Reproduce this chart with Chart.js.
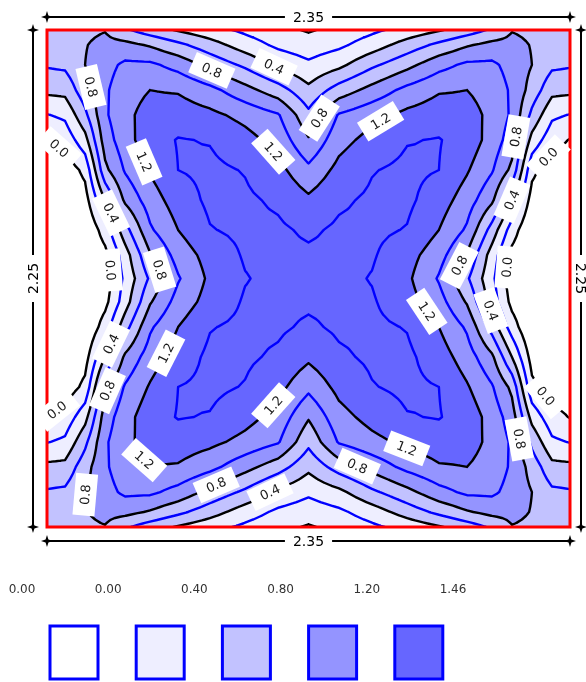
<!DOCTYPE html>
<html lang="en">
<head>
<meta charset="UTF-8">
<title>Contour plot</title>
<script src="https://cdn.jsdelivr.net/npm/chart.js@4.4.0/dist/chart.umd.min.js"></script>
<style>
  html, body { margin: 0; padding: 0; background: #fff; }
  #wrap { width: 586px; height: 682px; position: relative; }
</style>
</head>
<body>
<div id="wrap"><canvas id="chart"></canvas></div>
<script>
// grid columns / rows (data units) and the values
const xs = [0, 0.081, 0.171, 0.261, 0.351, 0.463, 0.589, 0.732, 0.890, 1.038, 1.175,
            1.312, 1.460, 1.618, 1.761, 1.887, 1.999, 2.089, 2.179, 2.269, 2.35];
const ys = [2.25, 2.182, 2.092, 1.978, 1.865, 1.752, 1.616, 1.480, 1.345, 1.231, 1.125,
            1.019, 0.905, 0.770, 0.634, 0.498, 0.385, 0.272, 0.158, 0.068, 0];
const zRows = [
  [0.70, 0.72, 0.76, 0.79, 0.63, 0.50, 0.38, 0.27, 0.16, 0.06, -0.02, 0.06, 0.16, 0.27, 0.38, 0.50, 0.63, 0.79, 0.76, 0.72, 0.70],
  [0.67, 0.70, 0.79, 0.86, 0.86, 0.78, 0.65, 0.49, 0.30, 0.16, 0.09, 0.16, 0.30, 0.49, 0.65, 0.78, 0.86, 0.86, 0.79, 0.70, 0.67],
  [0.62, 0.64, 0.80, 0.93, 1.04, 1.04, 0.93, 0.74, 0.56, 0.35, 0.24, 0.35, 0.56, 0.74, 0.93, 1.04, 1.04, 0.93, 0.80, 0.64, 0.62],
  [0.45, 0.46, 0.72, 0.97, 1.12, 1.20, 1.18, 1.06, 0.87, 0.69, 0.45, 0.69, 0.87, 1.06, 1.18, 1.20, 1.12, 0.97, 0.72, 0.46, 0.45],
  [0.19, 0.24, 0.55, 0.97, 1.15, 1.28, 1.31, 1.25, 1.14, 1.02, 0.65, 1.02, 1.14, 1.25, 1.31, 1.28, 1.15, 0.97, 0.55, 0.24, 0.19],
  [-0.01, 0.07, 0.33, 0.90, 1.12, 1.32, 1.41, 1.39, 1.27, 1.13, 0.82, 1.13, 1.27, 1.39, 1.41, 1.32, 1.12, 0.90, 0.33, 0.07, -0.01],
  [-0.10, -0.12, 0.05, 0.75, 1.02, 1.22, 1.40, 1.44, 1.39, 1.26, 1.05, 1.26, 1.39, 1.44, 1.40, 1.22, 1.02, 0.75, 0.05, -0.12, -0.10],
  [-0.15, -0.15, -0.08, 0.40, 0.84, 1.10, 1.30, 1.44, 1.43, 1.37, 1.24, 1.37, 1.43, 1.44, 1.30, 1.10, 0.84, 0.40, -0.08, -0.15, -0.15],
  [-0.20, -0.20, -0.20, 0.10, 0.52, 0.97, 1.20, 1.39, 1.44, 1.43, 1.37, 1.43, 1.44, 1.39, 1.20, 0.97, 0.52, 0.10, -0.20, -0.20, -0.20],
  [-0.20, -0.20, -0.20, -0.06, 0.31, 0.78, 1.08, 1.28, 1.42, 1.44, 1.43, 1.44, 1.42, 1.28, 1.08, 0.78, 0.31, -0.06, -0.20, -0.20, -0.20],
  [-0.20, -0.20, -0.20, -0.12, 0.25, 0.63, 0.98, 1.24, 1.39, 1.45, 1.46, 1.45, 1.39, 1.24, 0.98, 0.63, 0.25, -0.12, -0.20, -0.20, -0.20],
  [-0.20, -0.20, -0.20, -0.06, 0.31, 0.78, 1.08, 1.28, 1.42, 1.44, 1.43, 1.44, 1.42, 1.28, 1.08, 0.78, 0.31, -0.06, -0.20, -0.20, -0.20],
  [-0.20, -0.20, -0.20, 0.10, 0.52, 0.97, 1.20, 1.39, 1.44, 1.43, 1.37, 1.43, 1.44, 1.39, 1.20, 0.97, 0.52, 0.10, -0.20, -0.20, -0.20],
  [-0.15, -0.15, -0.08, 0.40, 0.84, 1.10, 1.30, 1.44, 1.43, 1.37, 1.24, 1.37, 1.43, 1.44, 1.30, 1.10, 0.84, 0.40, -0.08, -0.15, -0.15],
  [-0.10, -0.12, 0.05, 0.75, 1.02, 1.22, 1.40, 1.44, 1.39, 1.26, 1.05, 1.26, 1.39, 1.44, 1.40, 1.22, 1.02, 0.75, 0.05, -0.12, -0.10],
  [-0.01, 0.07, 0.33, 0.90, 1.12, 1.32, 1.41, 1.39, 1.27, 1.13, 0.82, 1.13, 1.27, 1.39, 1.41, 1.32, 1.12, 0.90, 0.33, 0.07, -0.01],
  [0.19, 0.24, 0.55, 0.97, 1.15, 1.28, 1.31, 1.25, 1.14, 1.02, 0.65, 1.02, 1.14, 1.25, 1.31, 1.28, 1.15, 0.97, 0.55, 0.24, 0.19],
  [0.45, 0.46, 0.72, 0.97, 1.12, 1.20, 1.18, 1.06, 0.87, 0.69, 0.45, 0.69, 0.87, 1.06, 1.18, 1.20, 1.12, 0.97, 0.72, 0.46, 0.45],
  [0.62, 0.64, 0.80, 0.93, 1.04, 1.04, 0.93, 0.74, 0.56, 0.35, 0.24, 0.35, 0.56, 0.74, 0.93, 1.04, 1.04, 0.93, 0.80, 0.64, 0.62],
  [0.67, 0.70, 0.79, 0.86, 0.86, 0.78, 0.65, 0.49, 0.30, 0.16, 0.09, 0.16, 0.30, 0.49, 0.65, 0.78, 0.86, 0.86, 0.79, 0.70, 0.67],
  [0.70, 0.72, 0.76, 0.79, 0.63, 0.50, 0.38, 0.27, 0.16, 0.06, -0.02, 0.06, 0.16, 0.27, 0.38, 0.50, 0.63, 0.79, 0.76, 0.72, 0.70]
];
const lineLevels = [0.0, 0.2, 0.4, 0.6, 0.8, 1.0, 1.2, 1.4];
const bandEdges = [0.0, 0.4, 0.8, 1.2];
const legendTicks = ['0.00', '0.00', '0.40', '0.80', '1.20', '1.46'];
const widthLabel = '2.35';
const heightLabel = '2.25';

// styling
const bandColors = ['#ffffff', '#eeeeff', '#c2c2ff', '#9494ff', '#6666ff'];
const lineColors = ['#000000', '#0000ff'];

// where the inline contour labels sit (level, x, y in data units)
const labelSpots = [
  [0.8, 0.202, 1.987], [0.0, 0.081, 1.752], [0.8, 0.723, 2.060], [0.4, 1.011, 2.060],
  [1.2, 1.002, 1.698], [1.2, 0.449, 1.648], [0.4, 0.297, 1.422], [0.0, 0.319, 1.163],
  [0.8, 0.517, 1.154], [0.8, 1.236, 1.843], [1.2, 1.496, 1.820], [0.8, 2.076, 1.761],
  [0.0, 2.224, 1.684], [0.4, 2.058, 1.494], [0.8, 1.833, 1.200], [0.0, 2.027, 1.186],
  [1.2, 0.508, 0.801], [1.2, 1.712, 0.969], [0.4, 0.297, 0.824], [0.4, 1.977, 0.982],
  [0.8, 0.292, 0.607], [1.2, 1.002, 0.566], [0.0, 0.067, 0.493], [0.0, 2.224, 0.575],
  [1.2, 0.440, 0.303], [1.2, 1.622, 0.358], [0.8, 1.397, 0.312], [0.8, 0.764, 0.199],
  [0.4, 0.993, 0.199], [0.8, 2.094, 0.407], [0.8, 0.171, 0.136]
];

function cellOf(arr, v) {
  const n = arr.length;
  for (let i = 0; i < n - 1; i++) {
    const lo = Math.min(arr[i], arr[i + 1]), hi = Math.max(arr[i], arr[i + 1]);
    if (v >= lo && v <= hi) return [i, (v - arr[i]) / (arr[i + 1] - arr[i])];
  }
  return Math.abs(v - arr[0]) < Math.abs(v - arr[n - 1]) ? [0, 0] : [n - 2, 1];
}
function bilin(ci, tx, rj, ty) {
  const a = zRows[rj][ci], b = zRows[rj][ci + 1], c = zRows[rj + 1][ci], d = zRows[rj + 1][ci + 1];
  return (1 - ty) * ((1 - tx) * a + tx * b) + ty * ((1 - tx) * c + tx * d);
}
function hexRGB(h) { return [parseInt(h.substr(1, 2), 16), parseInt(h.substr(3, 2), 16), parseInt(h.substr(5, 2), 16)]; }

// refine the grid for smoother isolines (rendering only)
const R = 4;
function refine(arr) {
  const out = [];
  for (let i = 0; i < arr.length - 1; i++) for (let k = 0; k < R; k++) out.push(arr[i] + (arr[i + 1] - arr[i]) * k / R);
  out.push(arr[arr.length - 1]);
  return out;
}
const fx = refine(xs), fy = refine(ys);
const fz = fy.map((_, j) => fx.map((_, i) => {
  let ci = Math.floor(i / R), tx = (i % R) / R;
  let rj = Math.floor(j / R), ty = (j % R) / R;
  if (ci >= xs.length - 1) { ci = xs.length - 2; tx = 1; }
  if (rj >= ys.length - 1) { rj = ys.length - 2; ty = 1; }
  return bilin(ci, tx, rj, ty);
}));

function isoSegments(level) {
  const segs = [];
  const lerp = (x1, y1, z1, x2, y2, z2) => { const t = (level - z1) / (z2 - z1); return [x1 + (x2 - x1) * t, y1 + (y2 - y1) * t]; };
  for (let j = 0; j < fy.length - 1; j++) {
    for (let i = 0; i < fx.length - 1; i++) {
      const za = fz[j][i], zb = fz[j][i + 1], zc = fz[j + 1][i + 1], zd = fz[j + 1][i];
      const idx = (za >= level ? 8 : 0) | (zb >= level ? 4 : 0) | (zc >= level ? 2 : 0) | (zd >= level ? 1 : 0);
      if (idx === 0 || idx === 15) continue;
      const x0 = fx[i], x1 = fx[i + 1], y0 = fy[j], y1 = fy[j + 1];
      const T = () => lerp(x0, y0, za, x1, y0, zb);
      const Rt = () => lerp(x1, y0, zb, x1, y1, zc);
      const B = () => lerp(x0, y1, zd, x1, y1, zc);
      const L = () => lerp(x0, y0, za, x0, y1, zd);
      const mid = (za + zb + zc + zd) / 4 >= level;
      switch (idx) {
        case 1: case 14: segs.push([L(), B()]); break;
        case 2: case 13: segs.push([B(), Rt()]); break;
        case 3: case 12: segs.push([L(), Rt()]); break;
        case 4: case 11: segs.push([T(), Rt()]); break;
        case 6: case 9: segs.push([T(), B()]); break;
        case 7: case 8: segs.push([L(), T()]); break;
        case 5:
          if (mid) { segs.push([L(), T()]); segs.push([B(), Rt()]); }
          else { segs.push([T(), Rt()]); segs.push([L(), B()]); }
          break;
        case 10:
          if (mid) { segs.push([T(), Rt()]); segs.push([L(), B()]); }
          else { segs.push([L(), T()]); segs.push([B(), Rt()]); }
          break;
      }
    }
  }
  return segs;
}

function star(ctx, x, y) {
  ctx.beginPath();
  for (let k = 0; k < 8; k++) {
    const ang = k * Math.PI / 4, r = k % 2 ? 2 : 6;
    const px = x + r * Math.cos(ang), py = y + r * Math.sin(ang);
    k ? ctx.lineTo(px, py) : ctx.moveTo(px, py);
  }
  ctx.closePath();
  ctx.fill();
}

const contourPlugin = {
  id: 'contour',
  beforeDatasetsDraw(chart) {
    const { ctx, chartArea: a, scales: { x: sx, y: sy } } = chart;
    const w = Math.round(a.right - a.left), h = Math.round(a.bottom - a.top);

    // filled bands
    const off = document.createElement('canvas');
    off.width = w; off.height = h;
    const octx = off.getContext('2d');
    const img = octx.createImageData(w, h);
    const cols = [], rows = [];
    for (let i = 0; i < w; i++) cols.push(cellOf(xs, sx.getValueForPixel(a.left + i + 0.5)));
    for (let j = 0; j < h; j++) rows.push(cellOf(ys, sy.getValueForPixel(a.top + j + 0.5)));
    const rgb = bandColors.map(hexRGB);
    for (let j = 0; j < h; j++) {
      for (let i = 0; i < w; i++) {
        const z = bilin(cols[i][0], cols[i][1], rows[j][0], rows[j][1]);
        let b = 0;
        while (b < bandEdges.length && z >= bandEdges[b]) b++;
        const p = (j * w + i) * 4;
        img.data[p] = rgb[b][0]; img.data[p + 1] = rgb[b][1]; img.data[p + 2] = rgb[b][2]; img.data[p + 3] = 255;
      }
    }
    octx.putImageData(img, 0, 0);
    ctx.drawImage(off, a.left, a.top);

    // isolines
    const segsByLevel = {};
    ctx.save();
    ctx.beginPath();
    ctx.rect(a.left, a.top, w, h);
    ctx.clip();
    lineLevels.forEach((lv, n) => {
      const segs = isoSegments(lv).map(s => s.map(p => [sx.getPixelForValue(p[0]), sy.getPixelForValue(p[1])]));
      segsByLevel[lv.toFixed(1)] = segs;
      ctx.beginPath();
      segs.forEach(s => { ctx.moveTo(s[0][0], s[0][1]); ctx.lineTo(s[1][0], s[1][1]); });
      ctx.strokeStyle = lineColors[n % 2];
      ctx.lineWidth = 2.4;
      ctx.lineCap = 'round';
      ctx.lineJoin = 'round';
      ctx.stroke();
    });
    ctx.restore();

    // red frame
    ctx.save();
    ctx.strokeStyle = '#ff0000';
    ctx.lineWidth = 3;
    ctx.strokeRect(a.left, a.top, w, h);
    ctx.restore();

    // inline labels
    labelSpots.forEach(([lv, dx, dy]) => {
      const segs = segsByLevel[lv.toFixed(1)];
      if (!segs || !segs.length) return;
      const ax = sx.getPixelForValue(dx), ay = sy.getPixelForValue(dy);
      let best = null, bd = Infinity;
      segs.forEach(s => {
        const mx = (s[0][0] + s[1][0]) / 2, my = (s[0][1] + s[1][1]) / 2;
        const d = (mx - ax) ** 2 + (my - ay) ** 2;
        if (d < bd) { bd = d; best = [mx, my, s]; }
      });
      // average direction near the spot
      const ref = best[2];
      let vx = 0, vy = 0;
      const rx = ref[1][0] - ref[0][0], ry = ref[1][1] - ref[0][1];
      segs.forEach(s => {
        const mx = (s[0][0] + s[1][0]) / 2, my = (s[0][1] + s[1][1]) / 2;
        if ((mx - best[0]) ** 2 + (my - best[1]) ** 2 > 225) return;
        let ux = s[1][0] - s[0][0], uy = s[1][1] - s[0][1];
        if (ux * rx + uy * ry < 0) { ux = -ux; uy = -uy; }
        vx += ux; vy += uy;
      });
      let ang = Math.atan2(vy, vx);
      if (ang > Math.PI / 2 + 0.01) ang -= Math.PI;
      if (ang <= -Math.PI / 2 + 0.01) ang += Math.PI;
      ctx.save();
      ctx.translate(best[0], best[1]);
      ctx.rotate(ang);
      ctx.fillStyle = '#ffffff';
      ctx.fillRect(-21, -11, 42, 22);
      ctx.fillStyle = '#1a1a1a';
      ctx.font = '13px "DejaVu Sans"';
      ctx.textAlign = 'center';
      ctx.textBaseline = 'middle';
      ctx.fillText(lv.toFixed(1), 0, 1);
      ctx.restore();
    });
  },
  afterDraw(chart) {
    const { ctx, chartArea: a } = chart;
    ctx.save();
    ctx.fillStyle = '#000';
    ctx.strokeStyle = '#000';
    ctx.lineWidth = 2;
    ctx.font = '14px "DejaVu Sans"';
    ctx.textAlign = 'center';
    ctx.textBaseline = 'middle';
    const cx = (a.left + a.right) / 2, cy = (a.top + a.bottom) / 2;
    const tw = ctx.measureText(widthLabel).width / 2 + 8;
    // horizontal dimensions, above and below
    [a.top - 13, a.bottom + 14].forEach(y => {
      ctx.beginPath();
      ctx.moveTo(a.left, y); ctx.lineTo(cx - tw, y);
      ctx.moveTo(cx + tw, y); ctx.lineTo(a.right, y);
      ctx.stroke();
      star(ctx, a.left, y); star(ctx, a.right, y);
      ctx.fillText(widthLabel, cx, y + 1);
    });
    // vertical dimensions, left and right
    const th = ctx.measureText(heightLabel).width / 2 + 8;
    [[a.left - 14, -1], [a.right + 11, 1]].forEach(([x, dir]) => {
      ctx.beginPath();
      ctx.moveTo(x, a.top); ctx.lineTo(x, cy - th);
      ctx.moveTo(x, cy + th); ctx.lineTo(x, a.bottom);
      ctx.stroke();
      star(ctx, x, a.top); star(ctx, x, a.bottom);
      ctx.save();
      ctx.translate(x, cy);
      ctx.rotate(dir * Math.PI / 2);
      ctx.fillText(heightLabel, 0, 1);
      ctx.restore();
    });

    // legend
    ctx.font = '12px "DejaVu Sans"';
    ctx.fillStyle = '#333';
    legendTicks.forEach((t, i) => ctx.fillText(t, 22 + 86.2 * i, 590));
    bandColors.forEach((c, i) => {
      const bx = 50 + 86.2 * i;
      ctx.fillStyle = c;
      ctx.fillRect(bx, 626, 48, 53);
      ctx.strokeStyle = '#0000ff';
      ctx.lineWidth = 3;
      ctx.strokeRect(bx, 626, 48, 53);
    });
    ctx.restore();
  }
};

const chart = new Chart(document.getElementById('chart'), {
  type: 'scatter',
  data: { datasets: [{ data: [], pointRadius: 0 }] },
  options: {
    responsive: true,
    maintainAspectRatio: false,
    animation: false,
    layout: { padding: { left: 47, top: 30, right: 16, bottom: 155 } },
    scales: {
      x: { type: 'linear', min: 0, max: 2.35, display: false },
      y: { type: 'linear', min: 0, max: 2.25, display: false }
    },
    plugins: { legend: { display: false }, tooltip: { enabled: false } }
  },
  plugins: [contourPlugin]
});
</script>
</body>
</html>
